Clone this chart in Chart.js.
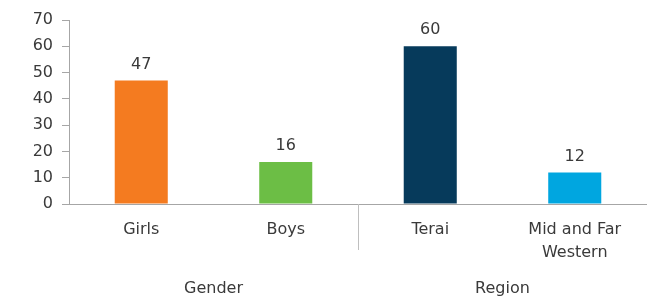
<!DOCTYPE html>
<html><head><meta charset="utf-8">
<script src="https://cdn.jsdelivr.net/npm/chart.js@4/dist/chart.umd.min.js"></script>
<style>html,body{margin:0;padding:0;background:#fff}#wrap{width:647px;height:297px;position:relative}</style>
</head><body><div id="wrap"><canvas id="c"></canvas></div>
<script>
const categories = [['Girls'], ['Boys'], ['Terai'], ['Mid and Far', 'Western']];
const groups = ['Gender', 'Region'];
const values = [47, 16, 60, 12];
const barColors = ['#F47B20', '#6CBE45', '#063A5B', '#00A6E0'];
const yTicks = [0, 10, 20, 30, 40, 50, 60, 70];

const FONT = 'DejaVu Sans';
const TXT = '#3a3a3a';
const AX = '#a6a6a6';

const valueLabels = {
  id: 'valueLabels',
  afterDatasetsDraw(chart) {
    const ctx = chart.ctx;
    const meta = chart.getDatasetMeta(0);
    ctx.save();
    ctx.font = '16px "' + FONT + '"';
    ctx.fillStyle = TXT;
    ctx.textAlign = 'center';
    ctx.textBaseline = 'bottom';
    meta.data.forEach((bar, i) => {
      ctx.fillText(String(values[i]), bar.x, bar.y - 8);
    });
    ctx.restore();
  }
};
const separator = {
  id: 'separator',
  afterDraw(chart) {
    const x = chart.scales.x;
    const px = x.getPixelForDecimal(0.5);
    const ctx = chart.ctx;
    ctx.save();
    ctx.strokeStyle = '#bfbfbf';
    ctx.lineWidth = 1;
    ctx.beginPath();
    ctx.moveTo(Math.round(px) + 0.5, x.top);
    ctx.lineTo(Math.round(px) + 0.5, x.top + 46);
    ctx.stroke();
    ctx.restore();
  }
};

new Chart(document.getElementById('c'), {
  type: 'bar',
  data: {
    labels: categories,
    datasets: [{ data: values, backgroundColor: barColors, barPercentage: 0.367, categoryPercentage: 1 }]
  },
  options: {
    responsive: true,
    maintainAspectRatio: false,
    animation: false,
    layout: { padding: { top: 20, right: 0, left: 0, bottom: 0 } },
    plugins: { legend: { display: false }, tooltip: { enabled: false } },
    scales: {
      y: {
        min: 0, max: 70,
        afterBuildTicks(s) { s.ticks = yTicks.map(v => ({ value: v })); },
        afterFit(s) { s.width = 69; },
        border: { display: true, color: AX, width: 1 },
        grid: { drawOnChartArea: false, drawTicks: true, tickLength: 7, color: AX },
        ticks: { padding: 9, color: TXT, font: { family: FONT, size: 16 } }
      },
      x: {
        afterFit(s) { s.height = 70; },
        border: { display: true, color: AX, width: 1 },
        grid: { display: false, drawTicks: false },
        ticks: { padding: 15, color: TXT, maxRotation: 0, autoSkip: false, font: { family: FONT, size: 16, lineHeight: 1.4 } }
      },
      x2: {
        type: 'category',
        position: 'bottom',
        labels: groups,
        afterFit(s) { s.height = 23; },
        border: { display: false },
        grid: { display: false, drawTicks: false },
        ticks: { padding: 5, color: TXT, font: { family: FONT, size: 16 } }
      }
    }
  },
  plugins: [valueLabels, separator]
});
</script></body></html>
